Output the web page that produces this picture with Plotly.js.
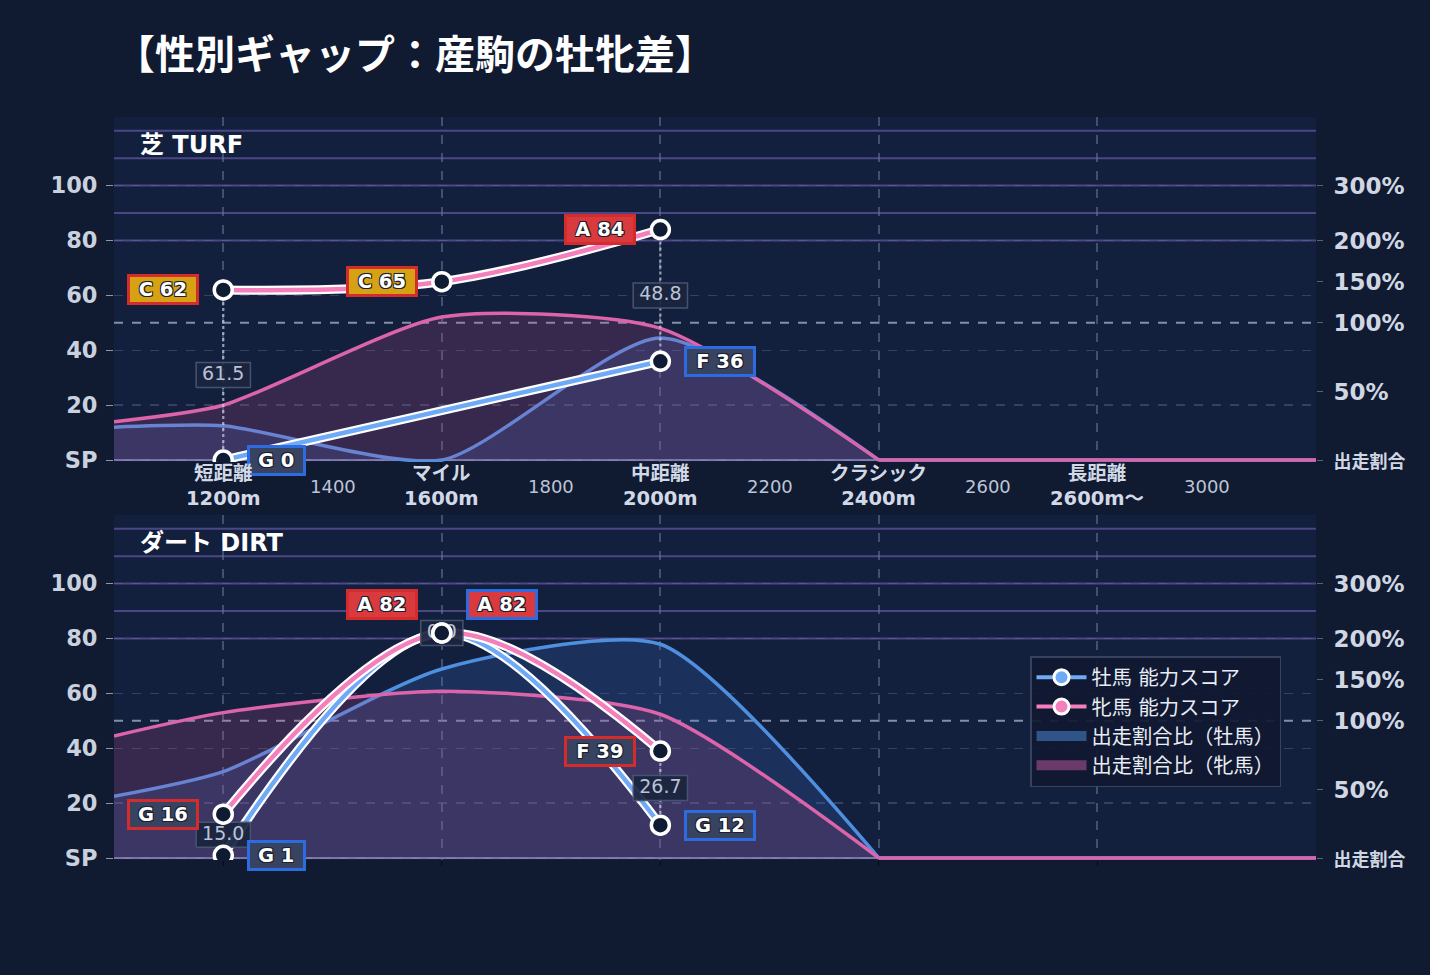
<!DOCTYPE html>
<html><head><meta charset="utf-8">
<script src="https://cdn.plot.ly/plotly-3.0.1.min.js"></script>
<style>html,body{margin:0;padding:0;background:#101a31;}#chart{width:1430px;height:975px;}</style>
</head><body><div id="chart"></div>
<script>
// ---------------- data ----------------
const CATEGORY_X = [1200, 1600, 2000, 2400, 2800];
const CATEGORY_NAMES = ['短距離', 'マイル', '中距離', 'クラシック', '長距離'];
const CATEGORY_DISTANCES = ['1200m', '1600m', '2000m', '2400m', '2600m〜'];
const MINOR_TICKS = [1400, 1800, 2200, 2600, 3000];

const SCORE_X = [1200, 1600, 2000];
const TURF_MALE_SCORE = [0, null, 36];
const TURF_MALE_GRADE = ['G', null, 'F'];
const TURF_FEMALE_SCORE = [62, 65, 84];
const TURF_FEMALE_GRADE = ['C', 'C', 'A'];
const TURF_GAP = [61.5, null, 48.8];

const DIRT_MALE_SCORE = [1, 82, 12];
const DIRT_MALE_GRADE = ['G', 'A', 'G'];
const DIRT_FEMALE_SCORE = [16, 82, 39];
const DIRT_FEMALE_GRADE = ['G', 'A', 'F'];
const DIRT_GAP = [15.0, 0.0, 26.7];

// 出走割合比 (%)
const SHARE_X = [1000, 1200, 1600, 2000, 2400, 2800, 3200];
const TURF_MALE_SHARE = [24, 25, 0, 89, 0, 0, 0];
const TURF_FEMALE_SHARE = [28, 40, 107, 96, 0, 0, 0];
const DIRT_MALE_SHARE = [45, 63, 163, 193, 0, 0, 0];
const DIRT_FEMALE_SHARE = [89, 110, 136, 108, 0, 0, 0];

const SCORE_TICKS = [0, 20, 40, 60, 80, 100];
const SCORE_TICK_TEXT = ['SP', '20', '40', '60', '80', '100'];
const SHARE_TICKS = [0, 50, 100, 150, 200, 300];
const SHARE_TICK_TEXT = ['<span style="font-size:18px">出走割合</span>', '50%', '100%', '150%', '200%', '300%'];
const BAND_LINES = [80, 90, 100, 110, 120];

// ---------------- style / geometry ----------------
const W = 1430, H = 975, ML = 114, MR = 114, MT = 117, MB = 115;
const XR = [1000, 3200], YR = [-0.7, 125];
const PLOT_H = H - MT - MB;
const TOP_BOTTOM_PX = 462, BOT_TOP_PX = 515;
const TOP_DOMAIN = [(H - MB - TOP_BOTTOM_PX) / PLOT_H, 1];
const BOT_DOMAIN = [0, (H - MB - BOT_TOP_PX) / PLOT_H];
const PANEL_PX = (H - MB) - BOT_TOP_PX;
const X_PER_PX = (XR[1] - XR[0]) / (W - ML - MR);
const Y_PER_PX = (YR[1] - YR[0]) / PANEL_PX;
function paperY(px) { return (H - MB - px) / PLOT_H; }

const FONT = 'DejaVu Sans, Noto Sans CJK JP, sans-serif';
const CJK = 'Noto Sans CJK JP, sans-serif';
const MALE_SCORE_C = '#6eaaf5', FEMALE_SCORE_C = '#f47fbd';
const MALE_SHARE_C = '#4f8fe0', FEMALE_SHARE_C = '#dc64aa';
const MALE_FILL = 'rgba(60,110,205,0.21)', FEMALE_FILL = 'rgba(205,80,150,0.19)';
const GRADE_FILL = {A: '#d83a3e', B: '#e0702a', C: '#d6a214', D: '#5a8a3a', E: '#3a5a8a', F: '#374361', G: '#374361'};
const FEMALE_BORDER = '#d42c2c', MALE_BORDER = '#2c6ce0';

function shareToAxis(p) {
  if (p <= 100) return p / 2;
  if (p <= 200) return 50 + (p - 100) * 0.3;
  return 80 + (p - 200) * 0.2;
}

const traces = [];
const annotations = [];
const shapes = [];

function tailIndex(vals) {
  let k = vals.length - 1;
  while (k > 0 && vals[k - 1] === 0) k--;
  return k;
}

function textWidth(t, digitW, letterW, spaceW, dotW) {
  let w = 0;
  for (const ch of t) {
    if (/[0-9]/.test(ch)) w += digitW;
    else if (ch === ' ') w += spaceW;
    else if (ch === '.') w += dotW;
    else w += letterW;
  }
  return w;
}

function addPanel(xa, ya, yaRight, maleShare, femaleShare, maleScore, maleGrade, femaleScore, femaleGrade, gaps) {
  // keeps the right-hand share axis drawn
  traces.push({type: 'scatter', mode: 'lines', x: [null], y: [null], xaxis: xa, yaxis: yaRight,
    showlegend: false, hoverinfo: 'skip'});
  // share areas
  [[maleShare, MALE_SHARE_C, MALE_FILL], [femaleShare, FEMALE_SHARE_C, FEMALE_FILL]].forEach(([vals, lc, fc]) => {
    const yv = vals.map(shareToAxis);
    const k = tailIndex(vals);
    traces.push({type: 'scatter', mode: 'lines', x: SHARE_X.slice(0, k + 1), y: yv.slice(0, k + 1),
      line: {color: lc, width: 3.5, shape: 'spline', smoothing: 0.65}, fill: 'tozeroy', fillcolor: fc,
      xaxis: xa, yaxis: ya, showlegend: false, hoverinfo: 'skip'});
    traces.push({type: 'scatter', mode: 'lines', x: SHARE_X.slice(k), y: yv.slice(k),
      line: {color: lc, width: 3.5}, xaxis: xa, yaxis: ya, showlegend: false, hoverinfo: 'skip'});
  });
  // dotted connectors
  SCORE_X.forEach((cx, i) => {
    if (maleScore[i] == null || femaleScore[i] == null || maleScore[i] === femaleScore[i]) return;
    traces.push({type: 'scatter', mode: 'lines', x: [cx, cx], y: [femaleScore[i], maleScore[i]],
      line: {color: 'rgba(205,212,228,0.7)', width: 2.2, dash: 'dot'}, xaxis: xa, yaxis: ya,
      showlegend: false, hoverinfo: 'skip'});
  });
  // score lines
  [[maleScore, MALE_SCORE_C], [femaleScore, FEMALE_SCORE_C]].forEach(([vals, c]) => {
    traces.push({type: 'scatter', mode: 'lines', x: SCORE_X, y: vals, connectgaps: true,
      line: {color: '#ffffff', width: 9, shape: 'spline', smoothing: 1}, xaxis: xa, yaxis: ya,
      showlegend: false, hoverinfo: 'skip'});
    traces.push({type: 'scatter', mode: 'lines', x: SCORE_X, y: vals, connectgaps: true,
      line: {color: c, width: 4.5, shape: 'spline', smoothing: 1}, xaxis: xa, yaxis: ya,
      showlegend: false, hoverinfo: 'skip'});
  });
  // gap labels (box + text), under the markers
  const gx = [], gy = [], gt = [];
  SCORE_X.forEach((cx, i) => {
    if (gaps[i] == null) return;
    const mid = (maleScore[i] + femaleScore[i]) / 2;
    const t = gaps[i].toFixed(1);
    const wPx = textWidth(t, 12.1, 12, 6, 6) + 12, hPx = 25;
    const dx = wPx / 2 * X_PER_PX, dy = hPx / 2 * Y_PER_PX;
    traces.push({type: 'scatter', mode: 'lines', x: [cx - dx, cx + dx, cx + dx, cx - dx, cx - dx],
      y: [mid - dy, mid - dy, mid + dy, mid + dy, mid - dy], fill: 'toself',
      fillcolor: 'rgba(27,37,62,0.93)', line: {color: 'rgba(72,86,116,0.95)', width: 1.5},
      xaxis: xa, yaxis: ya, showlegend: false, hoverinfo: 'skip'});
    gx.push(cx); gy.push(mid); gt.push(t);
  });
  traces.push({type: 'scatter', mode: 'text', x: gx, y: gy, text: gt, textposition: 'middle center',
    textfont: {family: FONT, size: 19, color: '#b9c3d5'}, cliponaxis: false,
    xaxis: xa, yaxis: ya, showlegend: false, hoverinfo: 'skip'});
  // markers
  [maleScore, femaleScore].forEach(vals => {
    traces.push({type: 'scatter', mode: 'markers', x: SCORE_X, y: vals,
      marker: {size: 18, color: '#0f1a33', line: {color: '#ffffff', width: 3.5}},
      xaxis: xa, yaxis: ya, showlegend: false, hoverinfo: 'skip'});
  });
  // score labels
  SCORE_X.forEach((cx, i) => {
    const close = maleScore[i] != null && femaleScore[i] != null && Math.abs(maleScore[i] - femaleScore[i]) < 8;
    [[femaleScore, femaleGrade, FEMALE_BORDER, 'right', -24], [maleScore, maleGrade, MALE_BORDER, 'left', 24]].forEach(([vals, grades, bc, anc, xs]) => {
      if (vals[i] == null) return;
      const t = grades[i] + ' ' + vals[i];
      annotations.push({xref: xa, yref: ya, x: cx, y: vals[i], text: t, showarrow: false,
        xanchor: anc, yanchor: 'middle', xshift: xs, yshift: close ? 29 : 0,
        bgcolor: GRADE_FILL[grades[i]], bordercolor: bc, borderwidth: 3, borderpad: 2,
        width: textWidth(t, 13.2, 14.7, 6.6, 6) + 14, height: 21,
        font: {family: FONT, size: 19.5, color: '#ffffff', weight: 'bold',
          shadow: '1px 1px 0 #1b2030, -1px -1px 0 #1b2030, 1px -1px 0 #1b2030, -1px 1px 0 #1b2030'}});
    });
  });
  // band lines, 100% line, baseline
  BAND_LINES.forEach(v => shapes.push({type: 'line', xref: 'paper', x0: 0, x1: 1, yref: ya, y0: v, y1: v,
    layer: 'below', line: {color: 'rgba(78,74,138,0.95)', width: 2}}));
  shapes.push({type: 'line', xref: 'paper', x0: 0, x1: 1, yref: ya, y0: shareToAxis(100), y1: shareToAxis(100),
    layer: 'below', line: {color: 'rgba(170,180,200,0.75)', width: 2, dash: 'dash'}});
  shapes.push({type: 'line', xref: 'paper', x0: 0, x1: 1, yref: ya, y0: 0, y1: 0,
    layer: 'below', line: {color: 'rgba(195,185,235,0.85)', width: 1.5}});
}

addPanel('x', 'y', 'y2', TURF_MALE_SHARE, TURF_FEMALE_SHARE, TURF_MALE_SCORE, TURF_MALE_GRADE, TURF_FEMALE_SCORE, TURF_FEMALE_GRADE, TURF_GAP);
addPanel('x2', 'y3', 'y4', DIRT_MALE_SHARE, DIRT_FEMALE_SHARE, DIRT_MALE_SCORE, DIRT_MALE_GRADE, DIRT_FEMALE_SCORE, DIRT_FEMALE_GRADE, DIRT_GAP);

// legend entries
traces.push({type: 'scatter', mode: 'lines+markers', x: [null], y: [null], name: '牡馬 能力スコア',
  line: {color: MALE_SCORE_C, width: 4}, marker: {size: 15, color: MALE_SCORE_C, line: {color: '#fff', width: 3}},
  xaxis: 'x2', yaxis: 'y3', hoverinfo: 'skip'});
traces.push({type: 'scatter', mode: 'lines+markers', x: [null], y: [null], name: '牝馬 能力スコア',
  line: {color: FEMALE_SCORE_C, width: 4}, marker: {size: 15, color: FEMALE_SCORE_C, line: {color: '#fff', width: 3}},
  xaxis: 'x2', yaxis: 'y3', hoverinfo: 'skip'});
traces.push({type: 'scatter', mode: 'lines', x: [null], y: [null], name: '出走割合比（牡馬）',
  line: {color: '#2f5488', width: 14}, xaxis: 'x2', yaxis: 'y3', hoverinfo: 'skip'});
traces.push({type: 'scatter', mode: 'lines', x: [null], y: [null], name: '出走割合比（牝馬）',
  line: {color: '#6a3a6c', width: 14}, xaxis: 'x2', yaxis: 'y3', hoverinfo: 'skip'});

// x labels for the top panel
CATEGORY_X.forEach((cx, i) => {
  annotations.push({xref: 'x', yref: 'paper', x: cx, y: paperY(486), yanchor: 'middle', showarrow: false,
    text: CATEGORY_NAMES[i] + '<br>' + CATEGORY_DISTANCES[i],
    font: {family: FONT, size: 19.5, color: '#d2d9e6', weight: 'bold'}});
});
MINOR_TICKS.forEach(v => {
  annotations.push({xref: 'x', yref: 'paper', x: v, y: paperY(486), yanchor: 'middle', showarrow: false,
    text: String(v), font: {family: FONT, size: 18, color: '#bcc5d6'}});
});
// panel titles
[['芝 TURF', 145], ['ダート DIRT', 543]].forEach(([t, py]) => {
  annotations.push({xref: 'paper', yref: 'paper', x: (138 - ML) / (W - ML - MR), y: paperY(py),
    xanchor: 'left', yanchor: 'middle', showarrow: false, text: t,
    font: {family: FONT, size: 24, color: '#ffffff', weight: 'bold'}});
});

function xAxis(anchor) {
  return {domain: [0, 1], anchor: anchor, range: XR, tickvals: CATEGORY_X, showticklabels: false,
    ticks: 'outside', ticklen: 5, tickcolor: 'rgba(5,8,15,0.9)', showgrid: true,
    gridcolor: 'rgba(105,120,155,0.55)', griddash: 'dash', gridwidth: 2, zeroline: false, showline: false, fixedrange: true};
}
function yLeft(domain, anchor) {
  return {domain: domain, anchor: anchor, range: YR, tickvals: SCORE_TICKS, ticktext: SCORE_TICK_TEXT,
    tickfont: {family: FONT, size: 22.5, color: '#c9d1df', weight: 'bold'}, ticks: 'outside', ticklen: 7,
    ticklabelstandoff: 4,
    tickcolor: 'rgba(200,205,220,0.7)', showgrid: true, gridcolor: 'rgba(105,115,160,0.4)', griddash: 'dash',
    gridwidth: 1.5, zeroline: false, fixedrange: true};
}
function yRight(over, anchor, domain) {
  return {overlaying: over, side: 'right', anchor: anchor, domain: domain, range: YR, tickvals: SHARE_TICKS.map(shareToAxis),
    ticktext: SHARE_TICK_TEXT, tickfont: {family: FONT, size: 23, color: '#d0d7e3', weight: 'bold'},
    ticks: 'outside', ticklen: 6, ticklabelstandoff: 6, tickcolor: 'rgba(120,130,155,0.7)', showgrid: false, zeroline: false, fixedrange: true};
}

const layout = {
  width: W, height: H, margin: {l: ML, r: MR, t: MT, b: MB},
  paper_bgcolor: '#101a31', plot_bgcolor: '#13203d',
  font: {family: FONT, color: '#d0d7e3'},
  title: {text: '【性別ギャップ：産駒の牡牝差】', xref: 'container', yref: 'container',
    x: 115 / W, xanchor: 'left', y: 1 - 55 / H, yanchor: 'middle',
    font: {family: CJK, size: 40, color: '#ffffff', weight: 'bold'}},
  xaxis: xAxis('y'), xaxis2: xAxis('y3'),
  yaxis: yLeft(TOP_DOMAIN, 'x'), yaxis2: yRight('y', 'x', TOP_DOMAIN),
  yaxis3: yLeft(BOT_DOMAIN, 'x2'), yaxis4: yRight('y3', 'x2', BOT_DOMAIN),
  showlegend: true,
  legend: {x: (1030 - ML) / (W - ML - MR), y: paperY(656), xanchor: 'left', yanchor: 'top',
    bgcolor: 'rgba(16,25,48,0.92)', bordercolor: 'rgba(60,72,100,0.9)', borderwidth: 1.5,
    font: {family: FONT, size: 20.3, color: '#e8edf5'}, itemwidth: 50, tracegroupgap: 0},
  annotations: annotations, shapes: shapes
};

Plotly.newPlot('chart', traces, layout, {displayModeBar: false, staticPlot: true});
</script></body></html>
